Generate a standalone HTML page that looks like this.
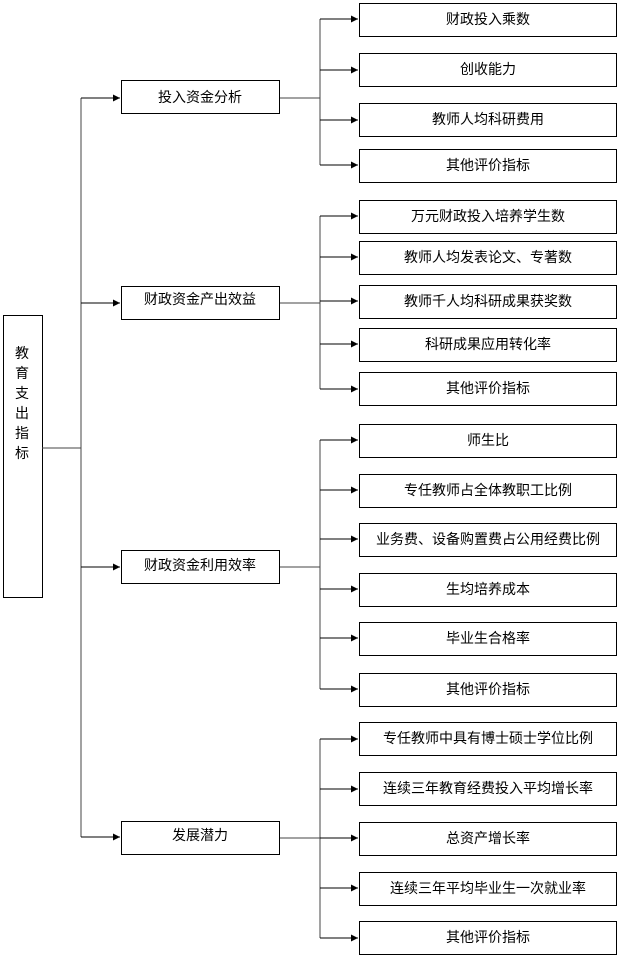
<!DOCTYPE html>
<html><head><meta charset="utf-8"><style>
html,body{margin:0;padding:0;background:#fff;}
svg{display:block;}
text{font-family:"Liberation Sans","Noto Sans CJK SC","WenQuanYi Zen Hei",sans-serif;font-size:14px;fill:#000;}
</style></head><body>
<svg width="620" height="963" viewBox="0 0 620 963" xmlns="http://www.w3.org/2000/svg">
<defs><marker id="a" viewBox="0 0 10 10" refX="10" refY="5" markerWidth="7" markerHeight="7" orient="auto" markerUnits="userSpaceOnUse"><path d="M0,0L10,5L0,10z" fill="#000"/></marker></defs>
<g fill="none" stroke="#000" stroke-width="1">
<rect x="3.5" y="315.5" width="39" height="282"/>
<path d="M42,448H81M81,98V837" stroke="#444"/>
<path d="M81,98H120" marker-end="url(#a)"/>
<path d="M81,303H120" marker-end="url(#a)"/>
<path d="M81,567H120" marker-end="url(#a)"/>
<path d="M81,837H120" marker-end="url(#a)"/>
<rect x="121.5" y="80.5" width="158" height="33"/>
<rect x="121.5" y="286.5" width="158" height="33"/>
<rect x="121.5" y="550.5" width="158" height="33"/>
<rect x="121.5" y="821.5" width="158" height="33"/>
<path d="M280,98H320M320,19V165M280,303H320M320,216V389M280,567H320M320,440V689M280,838H320M320,739V938" stroke="#444"/>
</g>
<g fill="none" stroke="#000">
<path d="M320,19H358" marker-end="url(#a)"/><rect x="359.5" y="3.5" width="257" height="33"/>
<path d="M320,70H358" marker-end="url(#a)"/><rect x="359.5" y="53.5" width="257" height="33"/>
<path d="M320,120H358" marker-end="url(#a)"/><rect x="359.5" y="103.5" width="257" height="33"/>
<path d="M320,165H358" marker-end="url(#a)"/><rect x="359.5" y="149.5" width="257" height="33"/>
<path d="M320,216H358" marker-end="url(#a)"/><rect x="359.5" y="200.5" width="257" height="33"/>
<path d="M320,257H358" marker-end="url(#a)"/><rect x="359.5" y="241.5" width="257" height="33"/>
<path d="M320,301H358" marker-end="url(#a)"/><rect x="359.5" y="285.5" width="257" height="33"/>
<path d="M320,344H358" marker-end="url(#a)"/><rect x="359.5" y="328.5" width="257" height="33"/>
<path d="M320,389H358" marker-end="url(#a)"/><rect x="359.5" y="372.5" width="257" height="33"/>
<path d="M320,440H358" marker-end="url(#a)"/><rect x="359.5" y="424.5" width="257" height="33"/>
<path d="M320,490H358" marker-end="url(#a)"/><rect x="359.5" y="474.5" width="257" height="33"/>
<path d="M320,539H358" marker-end="url(#a)"/><rect x="359.5" y="523.5" width="257" height="33"/>
<path d="M320,589H358" marker-end="url(#a)"/><rect x="359.5" y="573.5" width="257" height="33"/>
<path d="M320,638H358" marker-end="url(#a)"/><rect x="359.5" y="622.5" width="257" height="33"/>
<path d="M320,689H358" marker-end="url(#a)"/><rect x="359.5" y="673.5" width="257" height="33"/>
<path d="M320,739H358" marker-end="url(#a)"/><rect x="359.5" y="722.5" width="257" height="33"/>
<path d="M320,789H358" marker-end="url(#a)"/><rect x="359.5" y="772.5" width="257" height="33"/>
<path d="M320,838H358" marker-end="url(#a)"/><rect x="359.5" y="822.5" width="257" height="33"/>
<path d="M320,888H358" marker-end="url(#a)"/><rect x="359.5" y="872.5" width="257" height="33"/>
<path d="M320,938H358" marker-end="url(#a)"/><rect x="359.5" y="921.5" width="257" height="33"/>
</g>
<g text-anchor="middle">
<text x="22" y="358">教</text><text x="22" y="378">育</text><text x="22" y="398">支</text><text x="22" y="418">出</text><text x="22" y="438">指</text><text x="22" y="458">标</text>
<text x="200" y="102">投入资金分析</text>
<text x="200" y="304">财政资金产出效益</text>
<text x="200" y="570">财政资金利用效率</text>
<text x="200" y="840">发展潜力</text>
<text x="488" y="24">财政投入乘数</text>
<text x="488" y="74">创收能力</text>
<text x="488" y="124">教师人均科研费用</text>
<text x="488" y="170">其他评价指标</text>
<text x="488" y="221">万元财政投入培养学生数</text>
<text x="488" y="262">教师人均发表论文、专著数</text>
<text x="488" y="306">教师千人均科研成果获奖数</text>
<text x="488" y="349">科研成果应用转化率</text>
<text x="488" y="393">其他评价指标</text>
<text x="488" y="445">师生比</text>
<text x="488" y="495">专任教师占全体教职工比例</text>
<text x="488" y="544">业务费、设备购置费占公用经费比例</text>
<text x="488" y="594">生均培养成本</text>
<text x="488" y="643">毕业生合格率</text>
<text x="488" y="694">其他评价指标</text>
<text x="488" y="743">专任教师中具有博士硕士学位比例</text>
<text x="488" y="793">连续三年教育经费投入平均增长率</text>
<text x="488" y="843">总资产增长率</text>
<text x="488" y="893">连续三年平均毕业生一次就业率</text>
<text x="488" y="942">其他评价指标</text>
</g>
</svg>
</body></html>
